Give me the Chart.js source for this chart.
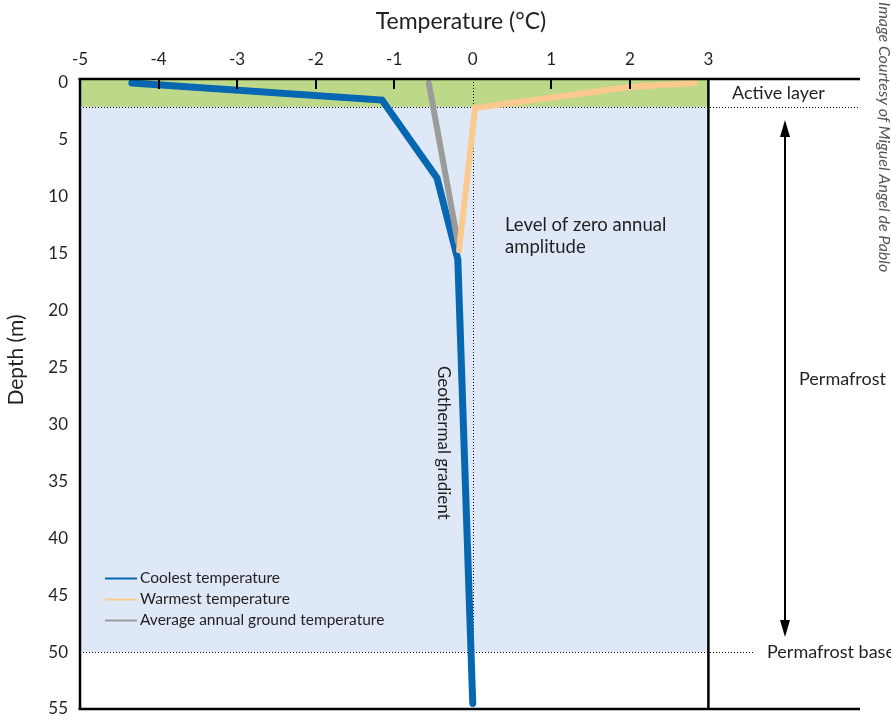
<!DOCTYPE html>
<html><head><meta charset="utf-8">
<script src="https://cdn.jsdelivr.net/npm/chart.js@4/dist/chart.umd.min.js"></script>
<style>html,body{margin:0;padding:0;background:#fff}#wrap{width:891px;height:720px;position:relative}</style>
</head><body><div id="wrap"><canvas id="c" width="891" height="720"></canvas></div>
<script>
const temperatureTicks=[-5,-4,-3,-2,-1,0,1,2,3];
const depthTicks=[0,5,10,15,20,25,30,35,40,45,50,55];
const coolestTemp=[-4.34,-1.155,-0.455,-0.19,0.0];
const coolestDepth=[0,1.5,8.35,15.5,54.5];
const warmestTemp=[2.83,2.0,0.03,-0.175];
const warmestDepth=[0,0.35,2.2,14.7];
const averageTemp=[-0.56,-0.19];
const averageDepth=[0,14];
const seriesLabels=['Coolest temperature','Warmest temperature','Average annual ground temperature'];
const seriesColors=['#0767b1','#fbc88e','#9b9b9b'];
const activeLayerDepth=2.1;
const permafrostBaseDepth=50;

const pts=(xs,ys)=>xs.map((v,i)=>({x:v,y:ys[i]}));
const FONT='Lato';
const TXT='#231f20';

function seg(ctx,x1,y1,x2,y2){ctx.beginPath();ctx.moveTo(x1,y1);ctx.lineTo(x2,y2);ctx.stroke();}

const decor={
  id:'decor',
  beforeDatasetsDraw(chart){
    const {ctx,chartArea:a,scales:{x,y}}=chart;
    const xl=x.getPixelForValue(-5), xr=x.getPixelForValue(3);
    const yA=y.getPixelForValue(activeLayerDepth), yB=y.getPixelForValue(permafrostBaseDepth);
    ctx.save();
    ctx.fillStyle='#bed88a'; ctx.fillRect(xl,a.top,xr-xl,yA-a.top);
    ctx.fillStyle='#dfe8f7'; ctx.fillRect(xl,yA,xr-xl,yB-yA);
    ctx.strokeStyle='#000'; ctx.lineWidth=1; ctx.setLineDash([1,2]);
    const ya=Math.round(yA)+0.5, yb=Math.round(yB)+0.5;
    seg(ctx,xl,ya,a.right,ya);
    seg(ctx,xl,yb,753,yb);
    const x0=Math.round(x.getPixelForValue(0))+0.5;
    seg(ctx,x0,a.top,x0,a.bottom);
    ctx.restore();
  },
  afterDatasetsDraw(chart){
    const {ctx,chartArea:a,scales:{x,y}}=chart;
    ctx.save();
    ctx.strokeStyle='#000';
    ctx.lineWidth=2;
    [-4,-3,-2,-1,1,2].forEach(v=>{const px=Math.round(x.getPixelForValue(v));seg(ctx,px,a.top,px,a.top+10);});
    ctx.lineWidth=2.5;
    seg(ctx,a.left-1.5,a.top,a.right,a.top);
    seg(ctx,a.left,a.top,a.left,a.bottom);
    seg(ctx,a.left-1.5,a.bottom,a.right,a.bottom);
    const xr=x.getPixelForValue(3);
    seg(ctx,xr,a.top,xr,a.bottom);
    ctx.restore();
  },
  afterDraw(chart){
    const {ctx,chartArea:a,scales:{x,y}}=chart;
    ctx.save();
    ctx.fillStyle=TXT;
    // titles
    ctx.font='23px '+FONT; ctx.textAlign='center'; ctx.textBaseline='middle';
    ctx.fillText('Temperature (°C)',461,22);
    ctx.font='21px '+FONT;
    ctx.save(); ctx.translate(16,360); ctx.rotate(-Math.PI/2); ctx.fillText('Depth (m)',0,0); ctx.restore();
    // annotations
    ctx.textAlign='left';
    ctx.font='18.5px '+FONT;
    ctx.fillText('Level of zero annual',505,225);
    ctx.fillText('amplitude',505,247);
    ctx.font='18px '+FONT;
    ctx.fillText('Active layer',732,93);
    ctx.fillText('Permafrost',799,379);
    ctx.fillText('Permafrost base',767,652);
    ctx.save(); ctx.font='17px '+FONT; ctx.translate(443,366); ctx.rotate(Math.PI/2); ctx.textAlign='left'; ctx.fillText('Geothermal gradient',0,0); ctx.restore();
    // credit
    ctx.save(); ctx.fillStyle='#555'; ctx.font='italic 16px '+FONT; ctx.translate(879,2); ctx.rotate(Math.PI/2); ctx.textAlign='left'; ctx.textBaseline='alphabetic'; ctx.fillText('Image Courtesy of Miguel Angel de Pablo',0,0); ctx.restore();
    // arrow
    ctx.strokeStyle='#000'; ctx.fillStyle='#000'; ctx.lineWidth=2;
    const ax=785;
    seg(ctx,ax,132,ax,625);
    ctx.beginPath(); ctx.moveTo(ax,120); ctx.lineTo(ax-5,137); ctx.lineTo(ax+5,137); ctx.closePath(); ctx.fill();
    ctx.beginPath(); ctx.moveTo(ax,637); ctx.lineTo(ax-5,620); ctx.lineTo(ax+5,620); ctx.closePath(); ctx.fill();
    // legend
    ctx.font='15.5px '+FONT; ctx.textBaseline='middle';
    [578,599,620].forEach((yy,i)=>{
      ctx.strokeStyle=seriesColors[i]; ctx.lineWidth=2;
      seg(ctx,105,yy+0.5,137,yy+0.5);
      ctx.fillStyle=TXT; ctx.fillText(seriesLabels[i],140,yy);
    });
    ctx.restore();
  }
};

const common={showLine:true,pointRadius:0,tension:0,borderCapStyle:'round',borderJoinStyle:'miter',fill:false};
new Chart(document.getElementById('c'),{
  type:'line',
  data:{datasets:[
    Object.assign({label:seriesLabels[1],data:pts(warmestTemp,warmestDepth),borderColor:seriesColors[1],borderWidth:6},common),
    Object.assign({label:seriesLabels[2],data:pts(averageTemp,averageDepth),borderColor:seriesColors[2],borderWidth:6},common),
    Object.assign({label:seriesLabels[0],data:pts(coolestTemp,coolestDepth),borderColor:seriesColors[0],borderWidth:7},common)
  ]},
  options:{
    responsive:false,animation:false,devicePixelRatio:1,
    layout:{padding:{left:0,right:31,top:0,bottom:11}},
    plugins:{legend:{display:false},tooltip:{enabled:false}},
    scales:{
      x:{type:'linear',position:'top',min:-5,max:4.93,
        afterBuildTicks(s){s.ticks=temperatureTicks.map(v=>({value:v}));},
        afterFit(s){s.height=79;s.paddingLeft=0;s.paddingRight=0;},
        grid:{display:false,drawTicks:false},border:{display:false},
        ticks:{padding:9,font:{family:FONT,size:17},color:TXT}},
      y:{type:'linear',reverse:true,min:-0.35,max:55,
        afterBuildTicks(s){s.ticks=depthTicks.map(v=>({value:v}));},
        afterFit(s){s.width=80;s.paddingTop=0;s.paddingBottom=0;},
        grid:{display:false,drawTicks:false},border:{display:false},
        ticks:{padding:12,font:{family:FONT,size:17},color:TXT}}
    }
  },
  plugins:[decor]
});
</script></body></html>
